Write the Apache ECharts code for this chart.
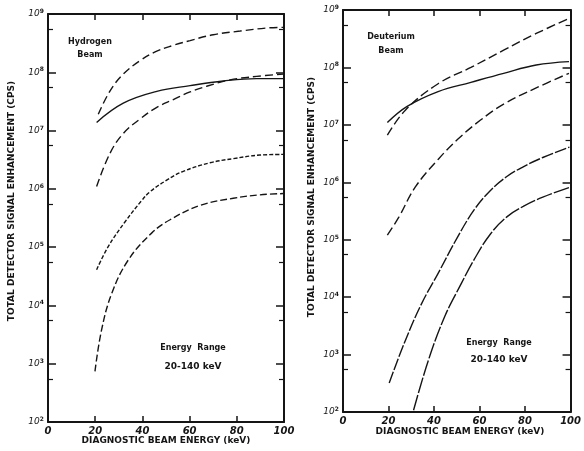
<!DOCTYPE html>
<html>
<head>
<meta charset="UTF-8">
<title>Detector signal enhancement</title>
<script src="https://cdn.jsdelivr.net/npm/echarts@6/dist/echarts.min.js"></script>
<style>
  html, body { margin: 0; padding: 0; background: #fff; }
  #chart { width: 584px; height: 451px; }
</style>
</head>
<body>
<div id="chart"></div>
<script>
// values: [energy keV, counts per second]
// hydrogen beam
const hA = [[21.3,1.9e7],[26.3,4.8e7],[31.9,9.3e7],[39.0,1.58e8],[46.1,2.3e8],[53.1,2.9e8],[60.2,3.5e8],[70.0,4.4e8],[81.4,5.1e8],[92.7,5.75e8],[99.7,5.9e8]];
const hB = [[20.6,1.38e7],[31.9,2.95e7],[46.1,4.7e7],[60.2,5.9e7],[74.3,7.1e7],[88.4,7.8e7],[99.7,7.8e7]];
const hC = [[20.6,1.1e6],[26.3,4.1e6],[31.9,8.9e6],[39.0,1.58e7],[46.1,2.5e7],[53.1,3.4e7],[60.2,4.6e7],[67.2,5.75e7],[77.1,7.4e7],[88.4,8.5e7],[99.7,9.3e7]];
const hD = [[20.6,4.1e4],[25.5,1.02e5],[32.6,2.7e5],[39.7,6.3e5],[43.2,8.9e5],[50.3,1.41e6],[57.3,2.0e6],[68.6,2.8e6],[78.5,3.3e6],[89.8,3.8e6],[99.7,3.9e6]];
const hE = [[19.9,7.4e2],[22.7,3.8e3],[27.0,1.6e4],[34.0,6.0e4],[43.9,1.74e5],[51.7,2.95e5],[64.4,5.2e5],[78.5,6.9e5],[89.8,7.9e5],[99.7,8.3e5]];

// deuterium beam
const dA = [[19.5,6.6e6],[27.4,1.8e7],[41.8,5.2e7],[56.2,1.0e8],[70.6,2.0e8],[84.9,3.9e8],[99.3,7.1e8]];
const dB = [[19.5,1.1e7],[28.2,2.1e7],[41.8,3.8e7],[56.2,5.5e7],[70.6,7.9e7],[84.9,1.1e8],[99.3,1.26e8]];
const dC = [[19.5,1.2e5],[24.6,2.5e5],[31.8,8.3e5],[41.8,2.5e6],[50.4,5.6e6],[60.3,1.2e7],[70.6,2.3e7],[84.9,4.4e7],[99.3,7.9e7]];
const dD = [[20.3,3.2e2],[27.5,1.8e3],[34.6,7.8e3],[41.8,2.6e4],[50.4,1.12e5],[57.6,3.3e5],[64.8,7.2e5],[72.0,1.26e6],[79.2,1.86e6],[87.8,2.7e6],[99.5,4.1e6]];
const dE = [[31.0,1.07e2],[37.5,7.9e2],[44.7,4.6e3],[51.9,1.7e4],[57.6,4.5e4],[64.8,1.26e5],[72.0,2.5e5],[79.2,3.8e5],[87.8,5.5e5],[99.3,8.1e5]];

const ink = '#151515';
const font = 'DejaVu Sans';

let chart = echarts.init(document.getElementById('chart'));

function xAx(grid, bottom) {
  return {
    type: 'value', gridIndex: grid, min: 0, max: 100, interval: 20,
    position: bottom ? 'bottom' : 'top',
    axisLine: { show: true, onZero: false, lineStyle: { color: ink, width: 2 } },
    axisTick: { show: true, inside: true, length: 6, lineStyle: { color: ink, width: 1.5 } },
    axisLabel: {
      show: bottom, color: ink, fontFamily: font, fontWeight: 'bold',
      fontStyle: 'italic', fontSize: 10, margin: 4
    },
    splitLine: { show: false }
  };
}

function yAx(grid, left) {
  return {
    type: 'log', logBase: 10, gridIndex: grid, min: 1e2, max: 1e9, splitNumber: 7,
    position: left ? 'left' : 'right',
    axisLine: { show: true, onZero: false, lineStyle: { color: ink, width: 2 } },
    axisTick: { show: true, inside: true, length: 8, lineStyle: { color: ink, width: 1.5 } },
    minorTick: { show: true, splitNumber: 2, length: 5, lineStyle: { color: ink, width: 1.2 } },
    axisLabel: {
      show: left, color: ink, margin: 4,
      formatter: v => '{b|10}{s|' + Math.round(Math.log10(v)) + '}',
      rich: {
        b: { fontFamily: font, fontSize: 9, fontStyle: 'italic', color: ink },
        s: { fontFamily: font, fontSize: 6, fontWeight: 'bold', color: ink, verticalAlign: 'top', padding: [0, 0, 5, 0] }
      }
    },
    splitLine: { show: false }
  };
}

function line(data, xi, yi, dash) {
  return {
    type: 'line', data: data, xAxisIndex: xi, yAxisIndex: yi,
    showSymbol: false, smooth: 0.4, silent: true,
    lineStyle: { color: ink, width: 1.4, type: dash || 'solid' }
  };
}

function txt(x, y, s, size, rot) {
  return {
    type: 'text', x: x, y: y, rotation: rot || 0,
    style: {
      text: s, fill: ink, font: 'bold ' + size + 'px "' + font + '"',
      textAlign: 'center', textVerticalAlign: 'middle'
    }
  };
}

chart.setOption({
  animation: false,
  backgroundColor: '#fff',
  grid: [
    { left: 48, top: 14, width: 236, height: 408 },
    { left: 343, top: 10, width: 232, height: 402 }
  ],
  xAxis: [xAx(0, true), xAx(0, false), xAx(1, true), xAx(1, false)],
  yAxis: [yAx(0, true), yAx(0, false), yAx(1, true), yAx(1, false)],
  series: [
    line(hA, 0, 0, [8, 4]),
    line(hB, 0, 0),
    line(hC, 0, 0, [8, 4]),
    line(hD, 0, 0, [4, 2]),
    line(hE, 0, 0, [7, 3]),
    line(dA, 2, 2, [9, 4]),
    line(dB, 2, 2),
    line(dC, 2, 2, [9, 4]),
    line(dD, 2, 2, [12, 2]),
    line(dE, 2, 2, [16, 2])
  ],
  graphic: [
    txt(12, 201, 'TOTAL DETECTOR SIGNAL ENHANCEMENT (CPS)', 9, Math.PI / 2),
    txt(312, 197, 'TOTAL DETECTOR SIGNAL ENHANCEMENT (CPS)', 9, Math.PI / 2),
    txt(166, 441, 'DIAGNOSTIC BEAM ENERGY (keV)', 9),
    txt(460, 432, 'DIAGNOSTIC BEAM ENERGY (keV)', 9),
    txt(90, 42, 'Hydrogen', 8),
    txt(90, 55, 'Beam', 8),
    txt(391, 37, 'Deuterium', 8),
    txt(391, 51, 'Beam', 8),
    txt(193, 348, 'Energy  Range', 8),
    txt(193, 367, '20-140 keV', 9),
    txt(499, 343, 'Energy  Range', 8),
    txt(499, 360, '20-140 keV', 9)
  ]
});
</script>
</body>
</html>
